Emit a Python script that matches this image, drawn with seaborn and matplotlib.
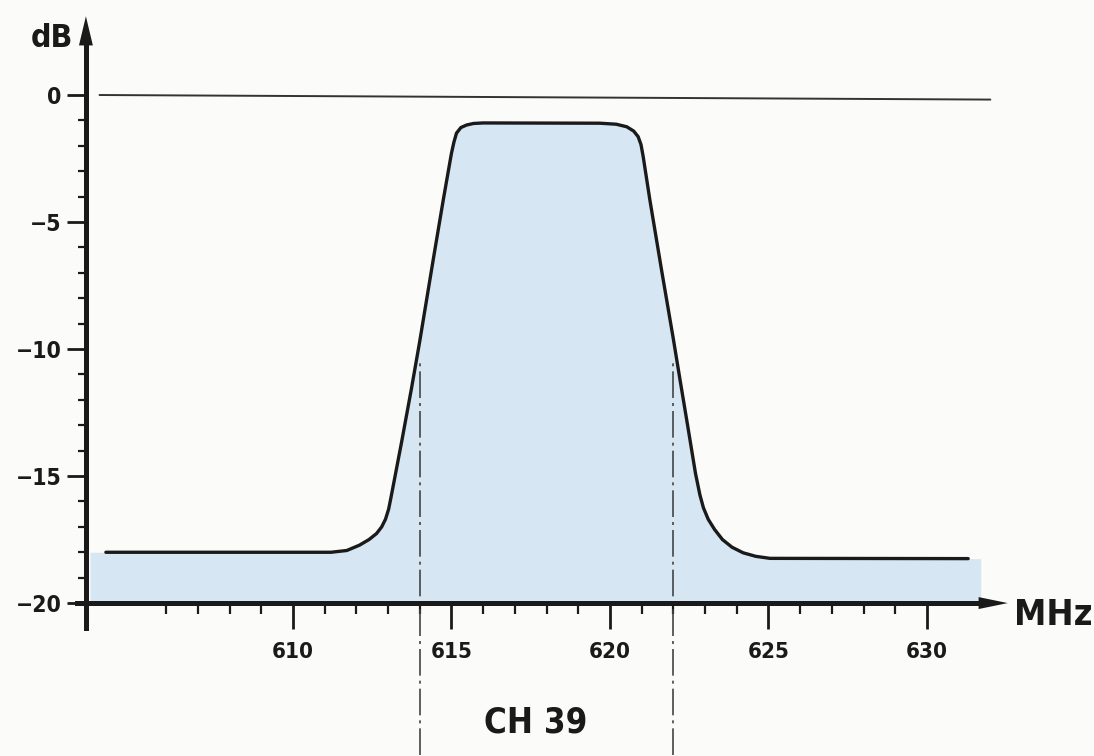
import matplotlib
matplotlib.use("Agg")
import matplotlib.pyplot as plt
import seaborn as sns
import pandas as pd

# ---------------- data ----------------
freq_mhz = [604.1, 611.2, 611.7, 612.1, 612.4, 612.64, 612.8, 612.92, 613.02,
            613.1, 613.2, 613.43, 613.74, 614.0, 614.43, 614.74, 615.0, 615.08,
            615.16, 615.3, 615.48, 615.7, 616.0, 619.68, 620.2, 620.53, 620.75,
            620.89, 620.98, 621.05, 621.26, 621.63, 622.0, 622.21, 622.45, 622.7,
            622.84, 622.95, 623.1, 623.3, 623.55, 623.85, 624.2, 624.6, 625.05, 631.3]
gain_db = [-18.0, -18.0, -17.93, -17.72, -17.5, -17.26, -17.0, -16.7, -16.3,
           -15.8, -15.15, -13.65, -11.55, -9.7, -6.45, -4.15, -2.3, -1.85,
           -1.5, -1.28, -1.18, -1.12, -1.1, -1.11, -1.15, -1.25, -1.42,
           -1.64, -1.95, -2.43, -4.13, -6.9, -9.6, -11.2, -13.0, -14.9,
           -15.75, -16.25, -16.7, -17.1, -17.5, -17.8, -18.02, -18.16, -18.24, -18.25]

fill_left = (603.6, -18.0)
fill_right = (631.7, -18.25)

ref_freq = [603.9, 632.0]
ref_db = [0.0, -0.18]

channel_edges = [614.0, 622.0]
channel_label = "CH 39"

x_major = [610, 615, 620, 625, 630]
x_major_labels = ["610", "615", "620", "625", "630"]
x_minor = [606, 607, 608, 609, 611, 612, 613, 614, 616, 617, 618, 619,
           621, 622, 623, 624, 626, 627, 628, 629]
y_major = [0, -5, -10, -15, -20]
y_major_labels = ["0", "\u22125", "\u221210", "\u221215", "\u221220"]
y_minor = [-1, -2, -3, -4, -6, -7, -8, -9, -11, -12, -13, -14, -16, -17, -18, -19]

x_unit = "MHz"
y_unit = "dB"

# ---------------- style ----------------
sns.set_theme(style="white")
plt.rcParams["font.family"] = ["DejaVu Sans"]
plt.rcParams["font.stretch"] = "condensed"
plt.rcParams["axes.unicode_minus"] = True

bg = "#fbfbf9"
ink = "#1a1a1a"
fill_col = "#d6e6f3"
FONT = dict(family="DejaVu Sans", stretch="condensed", weight="bold")

fig = plt.figure(figsize=(10.94, 7.56), dpi=100, facecolor=bg)
ax = fig.add_axes([0, 0, 1, 1], facecolor=bg)
ax.set_xlim(600.76, 635.27)
ax.set_ylim(-26.02, 3.74)

# filled area under the response
fx = [fill_left[0]] + freq_mhz + [fill_right[0]]
fy = [fill_left[1]] + gain_db + [fill_right[1]]
ax.fill_between(fx, fy, -20, color=fill_col, linewidth=0, zorder=1)

# response curve
df = pd.DataFrame({"freq": freq_mhz, "db": gain_db})
sns.lineplot(data=df, x="freq", y="db", ax=ax, color=ink, linewidth=2.4,
             sort=False, zorder=3)
for ln in ax.lines:
    ln.set_solid_joinstyle("round")

# 0 dB reference line
ax.plot(ref_freq, ref_db, color="#333333", linewidth=1.4, zorder=2)

# channel edge markers
ax.vlines(channel_edges, -26.0, -10.4, colors="#444444", linewidth=1.2,
          linestyles=[(0, (16, 3, 1.8, 3))], zorder=2)

# spines as axes
for s in ["top", "right"]:
    ax.spines[s].set_visible(False)
ax.spines["left"].set_position(("data", 603.47))
ax.spines["left"].set_bounds(-21.0, 2.4)
ax.spines["bottom"].set_position(("data", -20))
ax.spines["bottom"].set_bounds(603.2, 631.8)
for s in ["left", "bottom"]:
    ax.spines[s].set_linewidth(3.6)
    ax.spines[s].set_color(ink)
    ax.spines[s].set_zorder(4)

ax.set_xticks(x_major)
ax.set_xticklabels(x_major_labels)
ax.set_xticks(x_minor, minor=True)
ax.set_yticks(y_major)
ax.set_yticklabels(y_major_labels)
ax.set_yticks(y_minor, minor=True)

ax.tick_params(axis="x", which="major", direction="out", length=19, width=2,
               pad=9, labelsize=16, colors=ink, bottom=True)
ax.tick_params(axis="x", which="minor", direction="out", length=8, width=1.6,
               colors=ink, bottom=True)
ax.tick_params(axis="y", which="major", direction="out", length=13.5, width=2,
               pad=4, labelsize=16.5, colors=ink, left=True)
ax.tick_params(axis="y", which="minor", direction="out", length=6, width=1.6,
               colors=ink, left=True)
for lab in ax.get_xticklabels() + ax.get_yticklabels():
    lab.set_fontfamily(FONT["family"])
    lab.set_fontstretch(FONT["stretch"])
    lab.set_fontweight(FONT["weight"])

ax.set_xlabel("")
ax.set_ylabel("")
ax.grid(False)

# arrow heads
ax.annotate("", xy=(632.55, -20), xytext=(631.0, -20),
            arrowprops=dict(arrowstyle="-|>,head_length=21,head_width=4.3",
                            mutation_scale=1, color=ink, lw=0, shrinkA=0, shrinkB=0),
            zorder=5)
ax.annotate("", xy=(603.47, 3.1), xytext=(603.47, 1.5),
            arrowprops=dict(arrowstyle="-|>,head_length=21,head_width=5.0",
                            mutation_scale=1, color=ink, lw=0, shrinkA=0, shrinkB=0),
            zorder=5)

# texts
ax.text(633.97, -20.87, x_unit, ha="center", va="baseline", fontsize=26,
        color=ink, **FONT)
ax.text(602.4, 1.89, y_unit, ha="center", va="baseline", fontsize=23,
        color=ink, **FONT)
ax.text(617.65, -25.08, channel_label, ha="center", va="baseline", fontsize=25,
        color=ink, **FONT)

fig.savefig("out.png", dpi=100, facecolor=bg)
